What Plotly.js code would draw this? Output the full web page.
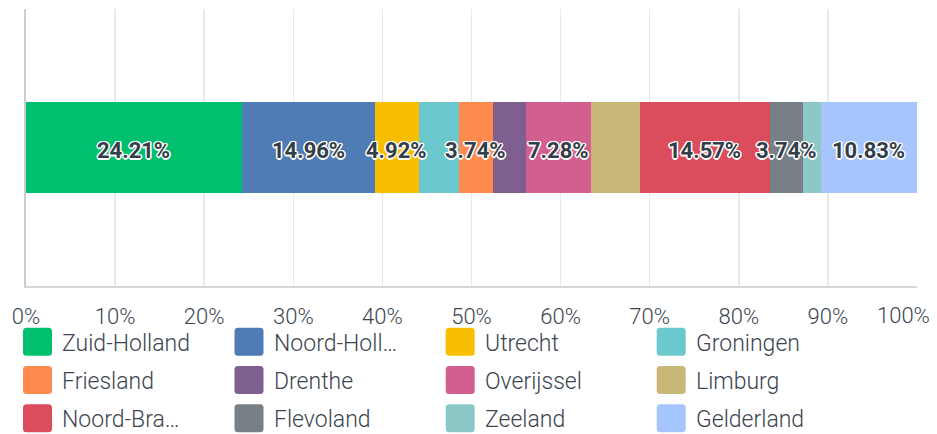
<!DOCTYPE html>
<html>
<head>
<meta charset="utf-8">
<script src="https://cdn.plot.ly/plotly-3.0.1.min.js"></script>
<style>html,body{margin:0;padding:0;background:#fff;}#chart{width:937px;height:434px;}</style>
</head>
<body>
<div id="chart"></div>
<script>
// ---- data ----
const provinces = ['Zuid-Holland','Noord-Holland','Utrecht','Groningen','Friesland','Drenthe','Overijssel','Limburg','Noord-Brabant','Flevoland','Zeeland','Gelderland'];
const legendLabels = ['Zuid-Holland','Noord-Holl…','Utrecht','Groningen','Friesland','Drenthe','Overijssel','Limburg','Noord-Bra…','Flevoland','Zeeland','Gelderland'];
const shares = [24.21,14.96,4.92,4.53,3.74,3.74,7.28,5.51,14.57,3.74,1.97,10.83];
const barLabels = ['24.21%','14.96%','4.92%','','3.74%','','7.28%','','14.57%','3.74%','','10.83%'];
const colors = ['#00BF6F','#507CB6','#F9BE00','#6BC8CD','#FF8B4F','#7F5F8F','#D25F90','#C7B879','#DB4D5C','#768086','#8DC8C8','#A7C5FD'];
const tickVals = [0,10,20,30,40,50,60,70,80,90,100];
const tickText = ['0%','10%','20%','30%','40%','50%','60%','70%','80%','90%','100%'];
const cat = 'Q1';

// ---- geometry ----
const W = 937, H = 434;
const M = {l: 26, r: 20, t: 9, b: 148};
const PW = W - M.l - M.r, PH = H - M.t - M.b;
const px2x = p => (p - M.l) / PW;
const py2y = p => (H - M.b - p) / PH;
const FONT = 'Roboto, "Liberation Sans", Arial, sans-serif';
const TEXT_COLOR = '#3B4550';
const TICK_SIZE = 22;

const traces = provinces.map((name, i) => ({
  type: 'bar', orientation: 'h', name: name,
  x: [shares[i]], y: [cat],
  marker: {color: colors[i], line: {width: 0}},
  hoverinfo: 'none', showlegend: false
}));

const shapes = [], annotations = [];

// bar value labels on top of all segments, at cumulative midpoints
let acc = 0;
shares.forEach((v, i) => {
  const mid = acc + v / 2; acc += v;
  if (!barLabels[i]) return;
  annotations.push({
    xref: 'x', yref: 'y', x: mid, y: cat, yshift: -3,
    text: barLabels[i], showarrow: false, xanchor: 'center', yanchor: 'middle',
    font: {family: FONT, size: 22, weight: 700, color: '#333E48',
      shadow: '1.5px 0 0 #fff, -1.5px 0 0 #fff, 0 1.5px 0 #fff, 0 -1.5px 0 #fff, 1px 1px 0 #fff, -1px -1px 0 #fff, 1px -1px 0 #fff, -1px 1px 0 #fff'}
  });
});

// last tick label is pulled inside the page (as in the original chart)
const lastIdx = tickVals.length - 1;
annotations.push({
  xref: 'x', yref: 'paper', x: tickVals[lastIdx], y: py2y(315.5),
  xanchor: 'right', yanchor: 'middle', xshift: 15, showarrow: false,
  text: tickText[lastIdx],
  font: {family: FONT, size: TICK_SIZE, weight: 300, color: TEXT_COLOR}
});
const axisTickText = tickText.map((t, i) => i === lastIdx ? '' : t);

// ---- custom legend (4 columns x 3 rows) ----
const colLeft = [23, 234.5, 445.7, 656.7];
const rowMid = [341.8, 380, 418.2];
const r = 3.5, hw = 14.5, hh = 14;
const swatchPath = `M ${-hw + r} ${-hh} L ${hw - r} ${-hh} Q ${hw} ${-hh} ${hw} ${-hh + r} L ${hw} ${hh - r} Q ${hw} ${hh} ${hw - r} ${hh} L ${-hw + r} ${hh} Q ${-hw} ${hh} ${-hw} ${hh - r} L ${-hw} ${-hh + r} Q ${-hw} ${-hh} ${-hw + r} ${-hh} Z`;
legendLabels.forEach((lab, i) => {
  const c = i % 4, rw = Math.floor(i / 4);
  shapes.push({
    type: 'path', xref: 'paper', yref: 'paper',
    xsizemode: 'pixel', ysizemode: 'pixel',
    xanchor: px2x(colLeft[c] + hw), yanchor: py2y(rowMid[rw]),
    path: swatchPath, fillcolor: colors[i], line: {width: 0}, layer: 'above'
  });
  annotations.push({
    xref: 'paper', yref: 'paper',
    x: px2x(colLeft[c] + 37), y: py2y(rowMid[rw] + 1.5),
    xanchor: 'left', yanchor: 'middle',
    text: lab, showarrow: false,
    font: {family: FONT, size: 23, weight: 300, color: TEXT_COLOR}
  });
});

const layout = {
  width: W, height: H,
  margin: M,
  paper_bgcolor: '#fff', plot_bgcolor: '#fff',
  barmode: 'stack', bargap: 0.67,
  showlegend: false, hovermode: false,
  xaxis: {
    range: [0, 100], tickvals: tickVals, ticktext: axisTickText,
    showgrid: true, gridcolor: '#E9E9E9', gridwidth: 1.5,
    zeroline: false, showline: true, linecolor: '#D6D6D6', linewidth: 2,
    ticks: '', ticklabelstandoff: 10,
    tickfont: {family: FONT, size: TICK_SIZE, weight: 300, color: TEXT_COLOR},
    fixedrange: true
  },
  yaxis: {
    type: 'category', showticklabels: false, showgrid: false, zeroline: false,
    showline: true, linecolor: '#CCCCCC', linewidth: 2, ticks: '',
    range: [-0.5, 0.5], fixedrange: true
  },
  shapes: shapes,
  annotations: annotations
};

Plotly.newPlot('chart', traces, layout, {displayModeBar: false, staticPlot: true});
</script>
</body>
</html>
